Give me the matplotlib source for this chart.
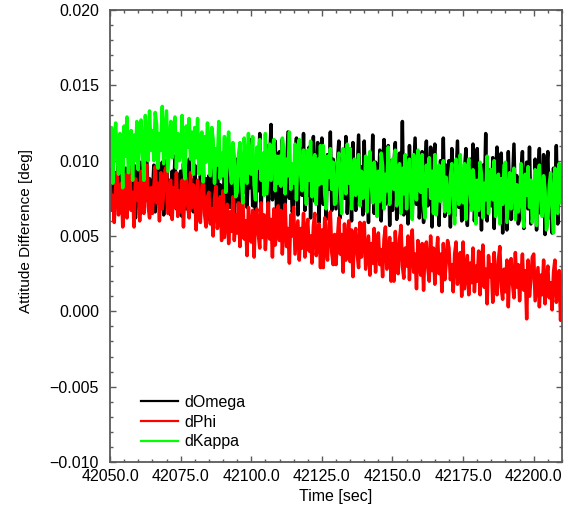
import numpy as np
import matplotlib
matplotlib.use("Agg")
import matplotlib.pyplot as plt
from matplotlib.ticker import MultipleLocator, FuncFormatter

plt.rcParams['font.family'] = ['Liberation Sans', 'DejaVu Sans']

# attitude differences sampled every 0.5 s, in millidegrees
time_sec = np.arange(42050.0, 42210.01, 0.5)

domega_mdeg = [
    9.9, 7.0, 8.6, 6.3, 9.2, 7.7, 10.2, 6.7, 9.0, 8.0,
    7.4, 9.5, 6.4, 8.8, 10.0, 7.1, 7.9, 9.7, 6.2, 9.1,
    9.4, 6.4, 9.9, 7.7, 6.9, 8.6, 10.2, 7.3, 8.8, 6.7,
    7.6, 9.7, 6.6, 9.0, 10.2, 7.3, 8.1, 9.9, 6.4, 9.3,
    10.0, 7.1, 8.7, 6.4, 9.3, 7.8, 10.3, 6.8, 9.1, 8.1,
    9.3, 6.3, 9.8, 7.6, 6.8, 8.5, 10.1, 7.2, 8.7, 6.6,
    9.7, 6.8, 8.4, 6.1, 9.0, 7.5, 10.0, 6.5, 8.8, 7.8,
    9.0, 6.0, 9.5, 7.3, 6.5, 8.2, 9.8, 6.9, 8.4, 6.3,
    7.2, 9.3, 6.2, 8.6, 9.8, 6.9, 7.7, 9.5, 6.0, 8.9,
    10.1, 7.2, 8.8, 6.5, 9.4, 7.9, 10.4, 6.9, 9.2, 8.2,
    11.4, 7.0, 9.4, 6.0, 10.3, 8.0, 11.8, 6.6, 10.0, 8.4,
    7.8, 11.0, 6.3, 9.9, 12.4, 7.4, 8.5, 11.3, 6.0, 10.3,
    10.6, 6.2, 11.4, 8.1, 6.9, 9.5, 11.9, 7.5, 9.8, 6.6,
    7.0, 10.1, 11.5, 6.4, 9.4, 10.8, 7.7, 11.8, 6.7, 9.2,
    7.7, 10.9, 6.2, 9.8, 11.6, 7.3, 8.4, 11.2, 5.9, 10.2,
    11.5, 7.1, 9.5, 6.1, 10.4, 8.1, 11.9, 6.7, 10.1, 8.5,
    6.8, 9.9, 11.3, 6.2, 9.2, 10.6, 7.5, 11.6, 6.5, 9.0,
    10.4, 6.0, 11.2, 7.9, 6.7, 9.3, 11.7, 7.3, 9.6, 6.4,
    11.3, 6.9, 9.3, 5.9, 10.2, 7.9, 11.7, 6.5, 9.9, 8.3,
    7.5, 10.7, 6.0, 9.6, 11.4, 7.1, 8.2, 11.0, 5.7, 10.0,
    6.7, 9.8, 11.2, 6.1, 9.1, 10.5, 7.4, 12.6, 6.4, 8.9,
    10.2, 5.8, 11.0, 7.7, 6.5, 9.1, 11.5, 7.1, 9.4, 6.2,
    7.4, 10.6, 5.9, 9.5, 11.3, 7.0, 8.1, 10.9, 5.6, 9.9,
    11.1, 6.7, 9.1, 5.7, 10.0, 7.7, 11.5, 6.3, 9.7, 8.1,
    10.0, 5.6, 10.8, 7.5, 6.3, 8.9, 11.3, 6.9, 9.2, 6.0,
    6.3, 9.4, 10.8, 5.7, 8.7, 10.1, 7.0, 11.1, 6.0, 8.5,
    10.8, 6.4, 8.8, 5.4, 9.7, 7.4, 11.8, 6.0, 9.4, 7.8,
    7.0, 10.2, 5.5, 9.1, 10.9, 6.6, 7.7, 10.5, 5.2, 9.5,
    9.8, 5.4, 10.6, 7.3, 6.1, 8.7, 11.1, 6.7, 9.0, 5.8,
    6.1, 9.2, 10.6, 5.5, 8.5, 9.9, 6.8, 10.9, 5.8, 8.3,
    6.9, 10.1, 5.4, 9.0, 10.8, 6.5, 7.6, 10.4, 5.1, 9.4,
    10.6, 6.2, 8.6, 5.2, 9.5, 7.2, 11.0, 5.8, 9.2, 7.6,
    8.0,
]

dphi_mdeg = [
    8.8, 6.7, 7.7, 5.9, 8.4, 9.2, 6.4, 7.2, 8.5, 5.6,
    7.1, 9.1, 6.2, 8.2, 9.5, 6.7, 7.9, 5.6, 8.8, 7.4,
    8.5, 6.0, 9.3, 7.3, 6.5, 8.8, 9.7, 7.0, 6.2, 8.2,
    6.5, 8.2, 9.6, 7.2, 8.5, 6.0, 9.2, 6.8, 7.9, 9.4,
    9.6, 6.5, 7.6, 8.7, 6.1, 8.2, 6.9, 9.2, 6.3, 8.0,
    6.6, 8.7, 5.6, 8.3, 8.8, 7.1, 6.2, 9.2, 6.9, 8.4,
    7.9, 5.4, 8.7, 6.7, 5.9, 8.2, 9.1, 6.4, 5.6, 7.6,
    7.9, 5.8, 6.8, 5.0, 7.5, 8.3, 5.5, 6.3, 7.6, 4.7,
    8.0, 4.9, 6.0, 7.1, 4.5, 6.6, 5.3, 7.6, 4.7, 6.4,
    5.2, 7.2, 4.3, 6.3, 7.6, 4.8, 6.0, 3.7, 6.9, 5.5,
    4.6, 6.7, 3.6, 6.3, 6.8, 5.1, 4.2, 7.2, 4.9, 6.4,
    4.1, 5.8, 7.2, 4.8, 6.1, 3.6, 6.8, 4.4, 5.5, 7.0,
    4.7, 6.7, 3.8, 5.8, 7.1, 4.3, 5.5, 3.2, 6.4, 5.0,
    6.9, 3.8, 4.9, 6.0, 3.4, 5.5, 4.2, 6.5, 3.6, 5.3,
    6.1, 4.0, 5.0, 3.2, 5.7, 6.5, 3.7, 4.5, 5.8, 2.9,
    5.4, 2.9, 6.2, 4.2, 3.4, 5.7, 6.6, 3.9, 3.1, 5.1,
    3.1, 4.8, 6.2, 3.8, 5.1, 2.6, 5.8, 3.4, 4.5, 6.0,
    3.3, 5.4, 2.3, 5.0, 5.5, 3.8, 2.9, 5.9, 3.6, 5.1,
    5.9, 2.8, 3.9, 5.0, 2.4, 4.5, 3.2, 5.5, 2.6, 4.3,
    5.2, 3.1, 4.1, 2.3, 4.8, 5.6, 2.8, 3.6, 4.9, 2.0,
    4.5, 2.0, 5.3, 3.3, 2.5, 4.8, 5.7, 3.0, 2.2, 4.2,
    3.0, 5.0, 2.1, 4.1, 5.4, 2.6, 3.8, 1.5, 4.7, 3.3,
    2.4, 4.5, 1.4, 4.1, 4.6, 2.9, 2.0, 5.0, 2.7, 4.2,
    1.8, 3.5, 4.9, 2.5, 3.8, 1.3, 4.5, 2.1, 3.2, 4.7,
    4.2, 2.1, 3.1, 1.3, 3.8, 4.6, 1.8, 2.6, 3.9, 1.0,
    4.6, 1.5, 2.6, 3.7, 1.1, 3.2, 1.9, 4.2, 1.3, 3.0,
    2.0, 4.0, 1.1, 3.1, 4.4, 1.6, 2.8, 0.5, 3.7, 2.3,
    3.1, 0.6, 3.9, 1.9, 1.1, 3.4, 4.3, 1.6, 0.8, 2.8,
    1.3, 3.4, 0.3, 3.0, 3.5, 1.8, 0.9, 3.9, 1.6, 3.1,
    0.7, 2.4, 3.8, 1.4, 2.7, -0.5, 3.4, 1.0, 2.1, 3.6,
    3.8, 0.7, 1.8, 2.9, 0.3, 2.4, 1.1, 3.4, 0.5, 2.2,
    3.0, 0.9, 1.9, 0.1, 2.6, 3.4, 0.6, 1.4, 2.7, -0.6,
    2.4,
]

dkappa_mdeg = [
    9.6, 12.2, 8.5, 11.5, 12.5, 10.2, 9.1, 11.8, 10.9, 8.2,
    12.3, 10.3, 12.9, 9.2, 11.4, 12.0, 8.7, 11.7, 10.0, 12.6,
    9.4, 11.9, 12.7, 10.4, 8.7, 13.0, 11.4, 10.0, 13.3, 10.7,
    12.0, 10.0, 13.2, 12.4, 9.5, 11.8, 10.7, 13.6, 9.8, 11.5,
    13.3, 9.3, 11.0, 12.6, 10.2, 12.2, 12.9, 9.5, 11.8, 10.0,
    10.5, 13.0, 9.8, 8.8, 12.3, 10.9, 12.8, 10.1, 11.9, 9.1,
    12.2, 10.2, 12.8, 9.1, 11.3, 11.9, 8.6, 11.6, 9.9, 12.5,
    11.0, 9.0, 12.2, 11.4, 8.5, 10.8, 9.7, 12.6, 8.8, 10.5,
    9.0, 11.6, 7.9, 10.9, 11.9, 9.6, 8.5, 11.2, 10.3, 7.6,
    7.9, 10.4, 11.2, 8.9, 7.2, 11.5, 9.9, 8.5, 11.8, 9.2,
    9.1, 11.6, 8.4, 7.4, 10.9, 9.5, 11.4, 8.7, 10.5, 7.7,
    11.8, 7.8, 9.5, 11.1, 8.7, 10.7, 11.4, 8.0, 10.3, 8.5,
    10.3, 8.3, 11.5, 10.7, 7.8, 10.1, 9.0, 11.9, 8.1, 9.8,
    8.5, 11.1, 7.4, 10.4, 11.4, 9.1, 8.0, 10.7, 9.8, 7.1,
    10.7, 8.7, 11.3, 7.6, 9.8, 10.4, 7.1, 10.1, 8.4, 11.0,
    8.5, 11.0, 7.8, 6.8, 10.3, 8.9, 10.8, 8.1, 9.9, 7.1,
    7.2, 9.7, 10.5, 8.2, 6.5, 10.8, 9.2, 7.8, 11.1, 8.5,
    10.8, 6.8, 8.5, 10.1, 7.7, 9.7, 10.4, 7.0, 9.3, 7.5,
    7.7, 10.3, 6.6, 9.6, 10.6, 8.3, 7.2, 9.9, 9.0, 6.3,
    9.3, 7.3, 10.5, 9.7, 6.8, 9.1, 8.0, 10.9, 7.1, 8.8,
    10.1, 8.1, 10.7, 7.0, 9.2, 9.8, 6.5, 9.5, 7.8, 10.4,
    6.8, 9.3, 10.1, 7.8, 6.1, 10.4, 8.8, 7.4, 10.7, 8.1,
    7.9, 10.4, 7.2, 6.2, 9.7, 8.3, 10.2, 7.5, 9.3, 6.5,
    10.4, 6.4, 8.1, 9.7, 7.3, 9.3, 10.0, 6.6, 8.9, 7.1,
    6.5, 9.0, 9.8, 7.5, 5.8, 10.1, 8.5, 7.1, 10.4, 7.8,
    7.2, 9.8, 6.1, 9.1, 10.1, 7.8, 6.7, 9.4, 8.5, 5.8,
    8.7, 6.7, 9.9, 9.1, 6.2, 8.5, 7.4, 10.3, 6.5, 8.2,
    9.4, 7.4, 10.0, 6.3, 8.5, 9.1, 5.8, 8.8, 7.1, 9.7,
    9.9, 5.9, 7.6, 9.2, 6.8, 8.8, 9.5, 6.1, 8.4, 6.6,
    7.3, 9.8, 6.6, 5.6, 9.1, 7.7, 9.6, 6.9, 8.7, 5.9,
    6.8, 9.4, 5.7, 8.7, 9.7, 7.4, 6.3, 9.0, 8.1, 5.4,
    5.9, 8.4, 9.2, 6.9, 5.2, 9.5, 7.9, 6.5, 9.8, 7.2,
    8.0,
]

series = [
    ("dOmega", domega_mdeg, "black"),
    ("dPhi", dphi_mdeg, "red"),
    ("dKappa", dkappa_mdeg, "#00ff00"),
]

fig = plt.figure(figsize=(5.68, 5.08), dpi=100)
ax = fig.add_axes([0.1937, 0.0906, 0.7957, 0.8897])

for name, vals, col in series:
    ax.plot(time_sec, np.array(vals) / 1000.0, color=col, lw=2.5, label=name)

ax.set_xlim(42050, 42210)
ax.set_ylim(-0.010, 0.020)
ax.xaxis.set_major_locator(MultipleLocator(25))
ax.xaxis.set_minor_locator(MultipleLocator(5))
ax.yaxis.set_major_locator(MultipleLocator(0.005))
ax.yaxis.set_minor_locator(MultipleLocator(0.001))
ax.xaxis.set_major_formatter(FuncFormatter(lambda v, p: f"{v:.1f}"))
ax.yaxis.set_major_formatter(
    FuncFormatter(lambda v, p: f"{v:.3f}".replace("-", "\u2212")))

frame_col = '#5a5a5a'
for sp in ax.spines.values():
    sp.set_color(frame_col)
    sp.set_linewidth(1.3)
ax.tick_params(which='both', direction='in', top=True, right=True,
               color=frame_col, labelsize=11.5)
ax.tick_params(which='major', length=4.5, width=1.0)
ax.tick_params(which='minor', length=2.5, width=1.0)
ax.tick_params(axis='y', pad=8)
ax.tick_params(axis='x', pad=5)

ax.set_xlabel("Time [sec]", fontsize=11.5, labelpad=4)
ax.set_ylabel("Attitude Difference [deg]", fontsize=11, labelpad=12)
ax.yaxis.label.set_y(0.511)

leg = ax.legend(loc='lower left', bbox_to_anchor=(0.04, 0.0), frameon=False,
                fontsize=11.5, handlelength=2.3, handletextpad=0.45,
                labelspacing=0.29, borderaxespad=0.4)
for h in leg.get_lines():
    h.set_linewidth(1.6)

fig.savefig("out.png", dpi=100)
